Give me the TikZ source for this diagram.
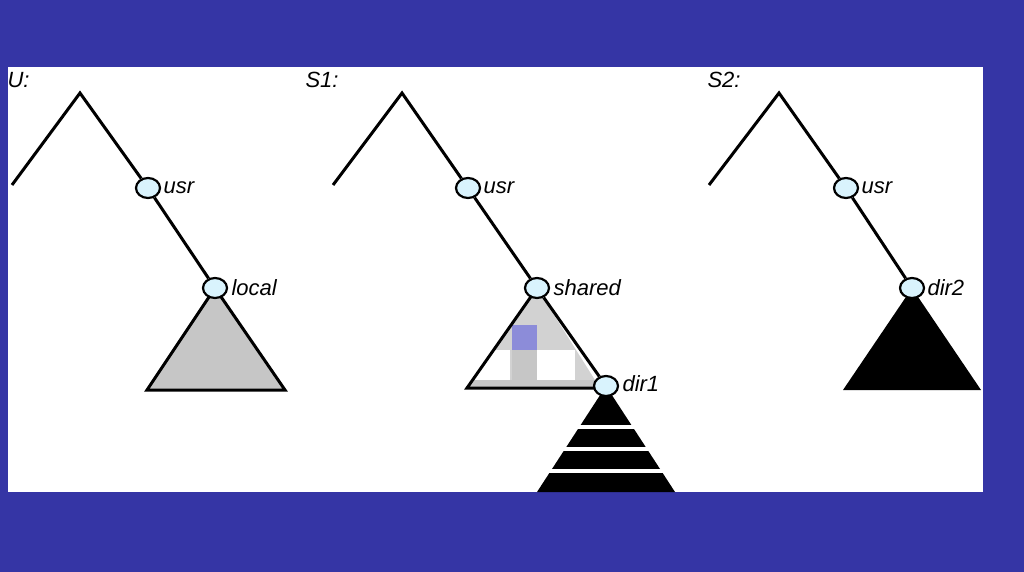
\documentclass[tikz,border=0pt]{standalone}
\usepackage{fontspec}
\setmainfont{Liberation Sans}
\usetikzlibrary{shapes.geometric}
\begin{document}
\begin{tikzpicture}[x=1pt,y=-1pt,
  dnode/.style={ellipse,draw,line width=2.2pt,fill=cyan!15,minimum width=24pt,minimum height=20pt,inner sep=0pt},
  lbl/.style={font=\itshape\fontsize{22}{22}\selectfont,anchor=west},
  edge/.style={line width=3pt}]
\fill[fill={rgb,255:red,53;green,53;blue,165}] (0,0) rectangle (1024,572);
\fill[white] (8,67) rectangle (983,492);
% U
\node[lbl] at (4,80) {U:};
\coordinate (u0) at (12,185); \coordinate (u1) at (80,93);
\coordinate (ul) at (147,390); \coordinate (ur) at (285,390);
\fill[gray!45] (215,288) -- (ul) -- (ur) -- cycle;
\draw[edge] (215,288) -- (ul) -- (ur) -- cycle;
\node[dnode] (uusr) at (148,188) {}; \node[lbl] at (160,188) {usr};
\node[dnode] (uloc) at (215,288) {}; \node[lbl] at (228,288) {local};
\draw[edge] (u0) -- (u1) -- (uusr) (uusr) -- (uloc);
% S1
\node[lbl] at (302,80) {S1:};
\coordinate (a0) at (333,185); \coordinate (a1) at (402,93);
\coordinate (al) at (467,388); \coordinate (ar) at (600,388);
\begin{scope}
\clip (537,288) -- (al) -- (ar) -- cycle;
\fill[gray!35] (460,280) rectangle (610,392);
\fill[white] (460,350) rectangle (510,380);
\fill[white] (537,350) rectangle (575,380);
\fill[gray!15] (460,280) rectangle (510,325);
\fill[blue!50!gray!60] (512,325) rectangle (537,350);
\fill[gray!45] (512,350) rectangle (537,388);
\fill[gray!45] (460,380) rectangle (610,388);
\end{scope}
\draw[edge] (537,288) -- (al) -- (ar);
\fill[black] (606,386) -- (537,492) -- (675,492) -- cycle;
\foreach \y in {427,449,471} \fill[white] (530,\y-2) rectangle (680,\y+2);
\node[dnode] (ausr) at (468,188) {}; \node[lbl] at (480,188) {usr};
\node[dnode] (ash) at (537,288) {}; \node[lbl] at (550,288) {shared};
\node[dnode] (adir) at (606,386) {}; \node[lbl] at (619,384) {dir1};
\draw[edge] (a0) -- (a1) -- (ausr) (ausr) -- (ash) (ash) -- (adir);
% S2
\node[lbl] at (704,80) {S2:};
\coordinate (b0) at (709,185); \coordinate (b1) at (779,93);
\fill[black] (912,288) -- (843,390) -- (981,390) -- cycle;
\node[dnode] (busr) at (846,188) {}; \node[lbl] at (858,188) {usr};
\node[dnode] (bdir) at (912,288) {}; \node[lbl] at (924,288) {dir2};
\draw[edge] (b0) -- (b1) -- (busr) (busr) -- (bdir);
\end{tikzpicture}
\end{document}
